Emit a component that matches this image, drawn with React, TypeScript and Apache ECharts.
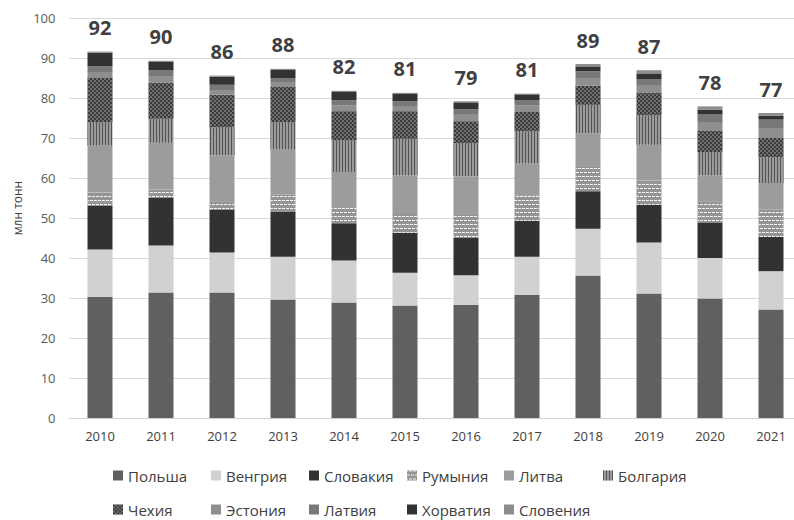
import React, { useEffect, useRef } from "react";
import * as echarts from "echarts";

const categories = ["2010", "2011", "2012", "2013", "2014", "2015", "2016", "2017", "2018", "2019", "2020", "2021"];

const poland = [30.3, 31.4, 31.4, 29.6, 28.9, 28.1, 28.3, 30.8, 35.6, 31.1, 29.9, 27.1];
const hungary = [11.8, 11.7, 10.0, 10.7, 10.5, 8.2, 7.4, 9.5, 11.7, 12.8, 10.1, 9.6];
const slovakia = [11.0, 11.9, 10.7, 11.3, 9.3, 10.0, 9.3, 9.0, 9.4, 9.4, 8.9, 8.55];
const romania = [3.3, 2.1, 2.1, 4.2, 3.8, 4.7, 6.2, 6.4, 6.5, 6.1, 5.3, 6.85];
const lithuania = [11.7, 11.7, 11.5, 11.3, 9.0, 9.7, 9.2, 7.9, 8.0, 8.9, 6.5, 6.65];
const bulgaria = [5.9, 6.0, 7.0, 6.9, 7.9, 9.1, 8.3, 8.1, 7.1, 7.4, 5.7, 6.45];
const czechia = [11.0, 9.1, 8.1, 8.9, 7.3, 6.9, 5.5, 4.8, 4.8, 5.55, 5.5, 4.8];
const estonia = [1.5, 1.6, 1.2, 1.1, 1.5, 1.3, 1.6, 1.7, 1.9, 1.8, 2.1, 2.3];
const latvia = [1.4, 1.5, 1.3, 1.0, 1.2, 1.2, 1.4, 1.3, 1.7, 1.7, 2.0, 2.3];
const croatia = [3.4, 2.0, 2.0, 2.0, 2.1, 1.8, 1.7, 1.4, 1.2, 1.4, 1.1, 1.0];
const slovenia = [0.3, 0.3, 0.3, 0.3, 0.3, 0.3, 0.3, 0.2, 0.6, 0.8, 0.8, 0.65];

const totals = [92, 90, 86, 88, 82, 81, 79, 81, 89, 87, 78, 77];

const yTicks = { min: 0, max: 100, interval: 10 };
const yAxisTitle = "млн тонн";

const seriesNames = [
  "Польша", "Венгрия", "Словакия", "Румыния", "Литва", "Болгария",
  "Чехия", "Эстония", "Латвия", "Хорватия", "Словения",
];
const seriesData = [poland, hungary, slovakia, romania, lithuania, bulgaria, czechia, estonia, latvia, croatia, slovenia];

const seriesColors = [
  "#5f6062", "#d0d1d3", "#333232", "#959595", "#9b9c9e", "#9a9a9a",
  "#3a3a3a", "#8e8f91", "#77787a", "#333232", "#8c8d8f",
];

const seriesDecals: any[] = [
  null, null, null,
  { symbol: "rect", color: "#f4f4f4", dashArrayX: [[3, 1], [1, 1, 2, 0]], dashArrayY: [1, 3], symbolSize: 1, rotation: 0 },
  null,
  { symbol: "rect", color: "#555555", dashArrayX: [1, 1.2], dashArrayY: [4, 0], symbolSize: 1, rotation: 0 },
  { symbol: "rect", color: "#a0a0a0", dashArrayX: [[1.5, 1.5], [0, 1.5, 1.5, 0]], dashArrayY: [1.5, 0], symbolSize: 0.7, rotation: 0 },
  null, null, null, null,
];

const legendLefts = [113, 211, 309, 407, 504, 603];
const legendTops = [468, 502];

export default function App() {
  const ref = useRef<HTMLDivElement>(null);
  useEffect(() => {
    if (!ref.current) return;
    const chart = echarts.init(ref.current, undefined, { renderer: "svg" });
    const font = "'Open Sans', 'Noto Sans', sans-serif";
    const series = seriesNames.map((name, i) => {
      const s: any = {
        name,
        type: "bar",
        stack: "total",
        barWidth: 25,
        data: seriesData[i],
        itemStyle: { color: seriesColors[i] },
        emphasis: { disabled: true },
      };
      if (seriesDecals[i]) s.itemStyle.decal = seriesDecals[i];
      if (i === seriesNames.length - 1) {
        s.label = {
          show: true,
          position: "top",
          distance: 14,
          formatter: (p: any) => String(totals[p.dataIndex]),
          fontFamily: font,
          fontSize: 20,
          fontWeight: "bold",
          color: "#404040",
        };
      }
      return s;
    });
    const legends = seriesNames.map((name, i) => ({
      data: [name],
      left: legendLefts[i % 6],
      top: legendTops[Math.floor(i / 6)],
      padding: 0,
      itemWidth: 10,
      itemHeight: 10,
      icon: "rect",
      selectedMode: false,
      textStyle: { fontFamily: font, fontSize: 15, color: "#404040" },
    }));
    chart.setOption({
      animation: false,
      backgroundColor: "#ffffff",
      grid: { left: 69.5, top: 18, width: 732, bottom: 102, outerBoundsMode: "none", containLabel: false },
      legend: legends,
      graphic: [
        {
          type: "text",
          x: 17,
          y: 208,
          rotation: Math.PI / 2,
          style: {
            text: yAxisTitle,
            fontFamily: font,
            fontSize: 12,
            fill: "#404040",
            align: "center",
            verticalAlign: "middle",
          },
        },
      ],
      xAxis: {
        type: "category",
        data: categories,
        axisTick: { show: false },
        axisLine: { lineStyle: { color: "#d0d0d0" } },
        axisLabel: { fontFamily: font, fontSize: 13, color: "#404040", margin: 11 },
      },
      yAxis: {
        type: "value",
        min: yTicks.min,
        max: yTicks.max,
        interval: yTicks.interval,
        axisLine: { show: false },
        axisTick: { show: false },
        axisLabel: { fontFamily: font, fontSize: 13, color: "#595959", margin: 14 },
        splitLine: { lineStyle: { color: "#d9d9d9" } },
      },
      series,
    });
    return () => chart.dispose();
  }, []);
  return <div ref={ref} style={{ width: 794, height: 520, position: "absolute", left: 0, top: 0 }} />;
}
